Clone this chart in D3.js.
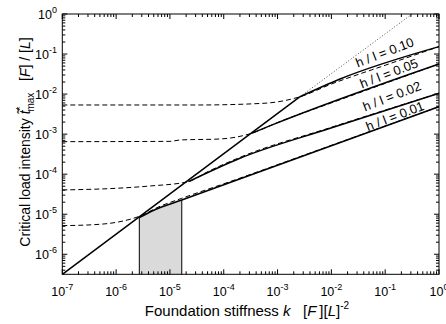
<!DOCTYPE html>
<html><head><meta charset="utf-8">
<script src="https://cdn.jsdelivr.net/npm/d3@7"></script>
<style>html,body{margin:0;padding:0;background:#fff;} svg{display:block;font-family:"Liberation Sans",Arial,sans-serif;}</style>
</head><body>
<svg id="c" width="446" height="324"></svg>
<script>
// ---------- data ----------
const xTickExp = [-7,-6,-5,-4,-3,-2,-1,0];
const yTickExp = [0,-1,-2,-3,-4,-5,-6];
const ratioLabels = ["h / l = 0.10","h / l = 0.05","h / l = 0.02","h / l = 0.01"];

// steep line (solid) and its dotted continuation
const steepK = [1e-7, 2.62e-3];
const steepT = [3.16e-7, 8.6e-3];
const dottedK = [2.62e-3, 0.316];
const dottedT = [8.6e-3, 1];

// solid curves for each h/l
const solid10K = [2.62e-3, 1.45e-2, 1];
const solid10T = [8.6e-3, 2.38e-2, 0.153];
const solid05K = [3.31e-4, 7.94e-4, 1];
const solid05T = [1.05e-3, 1.70e-3, 5.65e-2];
const solid02K = [2.2e-5, 2.0e-4, 9.5e-3, 1];
const solid02T = [6.5e-5, 2.5e-4, 1.4e-3, 1.05e-2];
const solid01K = [2.7e-6, 5.0e-6, 1.66e-5, 1];
const solid01T = [8.2e-6, 1.26e-5, 2.27e-5, 4.85e-3];

// dashed curves for each h/l
const dash10K = [1e-7, 3.6e-5, 5.6e-4, 2.62e-3, 1e-2, 0.1, 1];
const dash10T = [5.35e-3, 5.35e-3, 5.9e-3, 8.6e-3, 1.78e-2, 5.25e-2, 0.153];
const dash05K = [1e-7, 1e-5, 1.54e-5, 8.5e-5, 3.31e-4, 1e-3, 1e-2, 1];
const dash05T = [6.49e-4, 6.6e-4, 7.14e-4, 7.57e-4, 1.05e-3, 1.95e-3, 6.03e-3, 5.65e-2];
const dash02K = [1e-7, 1.03e-6, 4.27e-6, 2.2e-5, 4.83e-5, 2.0e-4, 9.5e-3, 1];
const dash02T = [4.04e-5, 4.45e-5, 5.07e-5, 6.5e-5, 1.12e-4, 2.63e-4, 1.45e-3, 1.05e-2];
const dash01K = [1e-7, 5e-7, 1.18e-6, 2.59e-6, 6.55e-6, 1.66e-5, 1e-4, 1e-2, 1];
const dash01T = [5.18e-6, 5.61e-6, 6.52e-6, 8.69e-6, 1.58e-5, 2.5e-5, 5.75e-5, 5.25e-4, 4.85e-3];

// shaded band under the h/l = 0.01 curve
const shadeK = [2.7e-6, 5.0e-6, 1.66e-5];
const shadeT = [8.2e-6, 1.26e-5, 2.27e-5];

// label anchor points (k, t) for h/l labels (start of text baseline)
const labelK = [3.1e-2, 3.7e-2, 4.2e-2, 4.8e-2];
const labelT = [4.6e-2, 1.38e-2, 3.7e-3, 1.18e-3];

// ---------- layout ----------
const L = 62.3, R = 439, T = 14, B = 274.3;
const svg = d3.select("#c");
const x = d3.scaleLog().domain([1e-7, 1]).range([L, R]);
const y = d3.scaleLog().domain([Math.pow(10,-6.5), 1]).range([B, T]);

const zip = (ks, ts) => ks.map((k,i)=>[k, ts[i]]);
const line = d3.line().x(d=>x(d[0])).y(d=>y(d[1])).curve(d3.curveMonotoneX);

// shaded region
const area = d3.area().x(d=>x(d[0])).y0(B).y1(d=>y(d[1])).curve(d3.curveMonotoneX);
svg.append("path").datum(zip(shadeK, shadeT)).attr("d", area).attr("fill", "#dadada");
[0, shadeK.length-1].forEach(i=>{
  svg.append("line").attr("x1", x(shadeK[i])).attr("x2", x(shadeK[i])).attr("y1", B).attr("y2", y(shadeT[i]))
    .attr("stroke","#000").attr("stroke-width",1);
});

// dashed curves
[[dash10K,dash10T],[dash05K,dash05T],[dash02K,dash02T],[dash01K,dash01T]].forEach(([ks,ts])=>{
  svg.append("path").datum(zip(ks,ts)).attr("d", line).attr("fill","none")
    .attr("stroke","#000").attr("stroke-width",1).attr("stroke-dasharray","5,3");
});
// dotted continuation
svg.append("path").datum(zip(dottedK,dottedT)).attr("d", line).attr("fill","none")
  .attr("stroke","#000").attr("stroke-width",0.7).attr("stroke-dasharray","1,2");
// solid curves
[[solid10K,solid10T],[solid05K,solid05T],[solid02K,solid02T],[solid01K,solid01T],[steepK,steepT]].forEach(([ks,ts])=>{
  svg.append("path").datum(zip(ks,ts)).attr("d", line).attr("fill","none")
    .attr("stroke","#000").attr("stroke-width",1.5);
});

// frame
svg.append("rect").attr("x",L).attr("y",T).attr("width",R-L).attr("height",B-T)
  .attr("fill","none").attr("stroke","#000").attr("stroke-width",1);

// ticks (inward, all four sides)
const tk = svg.append("g").attr("stroke","#000").attr("stroke-width",1);
const majLen = 5, minLen = 3;
xTickExp.forEach(e=>{
  const v = Math.pow(10,e);
  [[B,-1],[T,1]].forEach(([yy,dir])=>{
    tk.append("line").attr("x1",x(v)).attr("x2",x(v)).attr("y1",yy).attr("y2",yy+dir*majLen);
  });
  if (e < 0) for (let m=2;m<=9;m++){
    const mv = m*v;
    [[B,-1],[T,1]].forEach(([yy,dir])=>{
      tk.append("line").attr("x1",x(mv)).attr("x2",x(mv)).attr("y1",yy).attr("y2",yy+dir*minLen);
    });
  }
});
for (let e=-7;e<=0;e++){
  const v = Math.pow(10,e);
  if (v >= y.domain()[0]) [[L,1],[R,-1]].forEach(([xx,dir])=>{
    tk.append("line").attr("y1",y(v)).attr("y2",y(v)).attr("x1",xx).attr("x2",xx+dir*majLen);
  });
  if (e < 0) for (let m=2;m<=9;m++){
    const mv = m*v;
    if (mv < y.domain()[0] || mv > 1) continue;
    [[L,1],[R,-1]].forEach(([xx,dir])=>{
      tk.append("line").attr("y1",y(mv)).attr("y2",y(mv)).attr("x1",xx).attr("x2",xx+dir*minLen);
    });
  }
}

// tick labels
xTickExp.forEach(e=>{
  const t = svg.append("text").attr("x", x(Math.pow(10,e))).attr("y", 296)
    .attr("text-anchor","middle").attr("font-size",12.5);
  t.append("tspan").text("10");
  t.append("tspan").attr("dy",-6).attr("font-size",9).text(String(e));
});
yTickExp.forEach(e=>{
  const t = svg.append("text").attr("x", 57).attr("y", y(Math.pow(10,e))+4.5)
    .attr("text-anchor","end").attr("font-size",12.5);
  t.append("tspan").text("10");
  t.append("tspan").attr("dy",-6).attr("font-size",9).text(String(e));
});

// h/l labels rotated along curves
ratioLabels.forEach((s,i)=>{
  const px = x(labelK[i]) , py = y(labelT[i]);
  svg.append("text").attr("transform",`translate(${px},${py}) rotate(-21)`)
    .attr("font-size",13).attr("xml:space","preserve").text(s);
});

// axis titles
const xt = svg.append("text").attr("x",247).attr("y",316).attr("text-anchor","middle")
  .attr("font-size",15).attr("xml:space","preserve");
xt.append("tspan").text("Foundation stiffness ");
xt.append("tspan").attr("font-style","italic").text("k");
xt.append("tspan").text("   [");
xt.append("tspan").attr("font-style","italic").text("F");
xt.append("tspan").text("\u2009][");
xt.append("tspan").attr("font-style","italic").text("L");
xt.append("tspan").text("]");
xt.append("tspan").attr("dy",-7).attr("font-size",10).text("-2");

const yt = svg.append("text").attr("transform","translate(30,142) rotate(-90)")
  .attr("text-anchor","middle").attr("font-size",14).attr("xml:space","preserve");
yt.append("tspan").text("Critical load intensity ");
yt.append("tspan").attr("font-style","italic").text("t\u0303");
yt.append("tspan").attr("dy",-6).attr("font-size",10).text("*");
yt.append("tspan").attr("dx",-5).attr("dy",10).attr("font-size",10).text("max");
yt.append("tspan").attr("dy",-4).text("   [");
yt.append("tspan").attr("font-style","italic").text("F");
yt.append("tspan").text("] / [");
yt.append("tspan").attr("font-style","italic").text("L");
yt.append("tspan").text("]");
</script>
</body></html>
